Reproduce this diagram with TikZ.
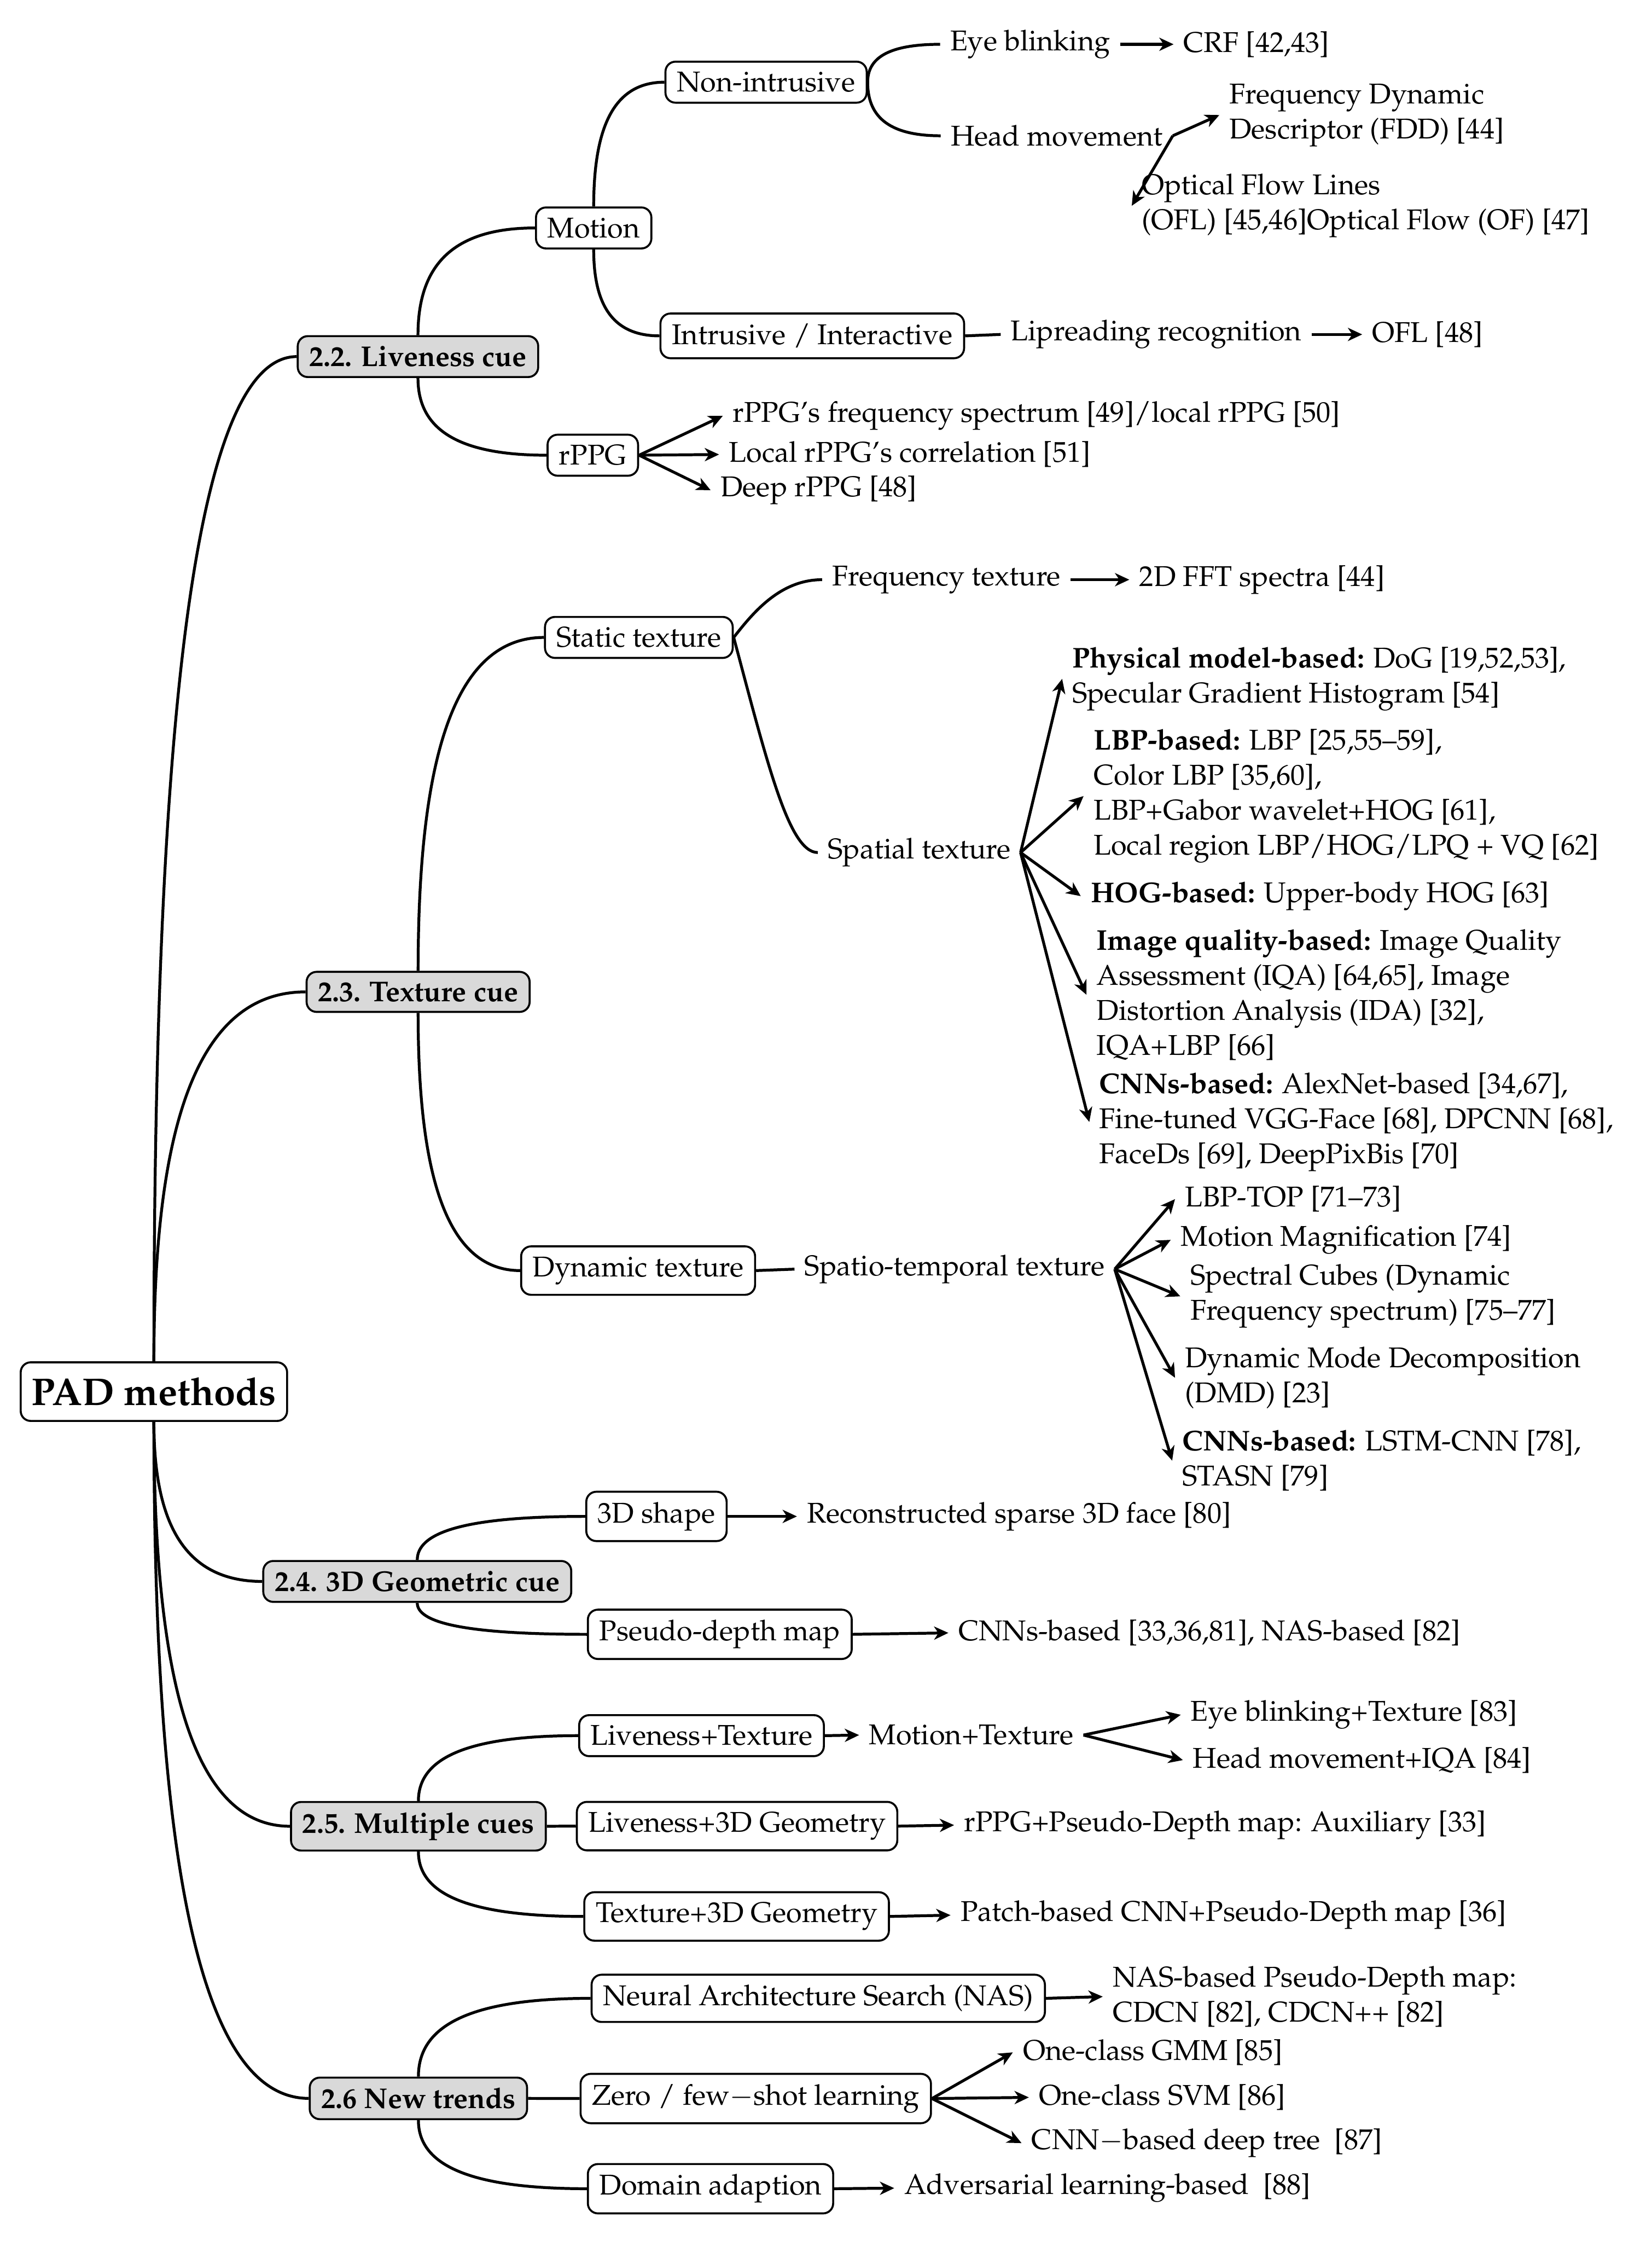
\documentclass[tikz,border=0pt]{standalone}
\usepackage[T1]{fontenc}
\usepackage{mathpazo}
\usetikzlibrary{calc,arrows.meta}
\tikzset{
  every node/.style={font=\fontsize{10}{12.25}\selectfont},
  box/.style={draw, line width=0.7pt, rounded corners=3.5pt, inner xsep=4pt, inner ysep=3.6pt, fill=white},
  lvl/.style={box, fill=gray!30, font=\fontsize{10}{12.25}\selectfont\bfseries},
  rootbox/.style={box, font=\fontsize{13.5}{15}\selectfont\bfseries, inner xsep=3.8pt, inner ysep=5.3pt},
  txt/.style={inner sep=3.33pt, align=left},
  conn/.style={line width=1pt},
  arr/.style={line width=1pt, -{Stealth[length=5pt,width=4.6pt,inset=1.5pt]}},
}
\newcommand{\bcurve}[2]{\draw[conn] (#1) .. controls ($(#1)!0.6!(#1|-#2)$) and ($(#2)!0.75!(#1|-#2)$) .. (#2);}
\begin{document}
\begin{tikzpicture}[x=0.5pt,y=-0.5pt]
\useasboundingbox (0,0) rectangle (1156,1568);
% root and level 1
\node[rootbox] (root) at (107.7,973.7) {PAD methods};
\node[lvl] (l22) at (292.5,249.5) {2.2. Liveness cue};
\node[lvl] (l23) at (292.6,694) {2.3. Texture cue};
\node[lvl] (l24) at (292,1106.5) {2.4. 3D Geometric cue};
\node[lvl] (l25) at (292.8,1277.8) {2.5. Multiple cues};
\node[lvl] (l26) at (292.8,1468.2) {2.6 New trends};
% liveness
\node[box,anchor=west] (motion) at (374.4,159.5) {Motion};
\node[box,anchor=west] (nonint) at (465,57.5) {Non-intrusive};
\node[box,anchor=west] (intr) at (461.5,235) {Intrusive / Interactive};
\node[box,anchor=west] (rppg) at (382.5,318.5) {rPPG};
\node[txt,anchor=west] (eye) at (657.9,31) {Eye blinking};
\node[txt,anchor=west] (crf) at (821.3,31) {CRF [42,43]};
\node[txt,anchor=west] (head) at (658.3,95) {Head movement};
\node[txt,anchor=west] (fdd) at (853.3,80.5) {Frequency Dynamic\\Descriptor (FDD) [44]};
\node[txt,anchor=west] (ofl) at (792,144) {Optical Flow Lines\\(OFL) [45,46]Optical Flow (OF) [47]};
\node[txt,anchor=west] (lip) at (700.3,234) {Lipreading recognition};
\node[txt,anchor=west] (ofl48) at (953.3,234) {OFL [48]};
\node[txt,anchor=west] (rp1) at (505.8,291) {rPPG's frequency spectrum [49]/local rPPG [50]};
\node[txt,anchor=west] (rp2) at (503.2,318) {Local rPPG's correlation [51]};
\node[txt,anchor=west] (rp3) at (497.3,343) {Deep rPPG [48]};
% texture
\node[box,anchor=west] (static) at (380.7,446) {Static texture};
\node[box,anchor=west] (dynamic) at (364,889) {Dynamic texture};
\node[txt,anchor=west] (freq) at (575.3,405.6) {Frequency texture};
\node[txt,anchor=west] (fft) at (790.3,405.6) {2D FFT spectra [44]};
\node[txt,anchor=west] (spat) at (572.3,596.5) {Spatial texture};
\node[txt,anchor=west] (sp1) at (743.3,475) {\textbf{Physical model-based:} DoG [19,52,53],\\Specular Gradient Histogram [54]};
\node[txt,anchor=west] (sp2) at (758.3,557) {\textbf{LBP-based:} LBP [25,55--59],\\Color LBP [35,60],\\LBP+Gabor wavelet+HOG [61],\\Local region LBP/HOG/LPQ + VQ [62]};
\node[txt,anchor=west] (sp3) at (756.3,627) {\textbf{HOG-based:} Upper-body HOG [63]};
\node[txt,anchor=west] (sp4) at (760.3,696) {\textbf{Image quality-based:} Image Quality\\Assessment (IQA) [64,65], Image\\Distortion Analysis (IDA) [32],\\IQA+LBP [66]};
\node[txt,anchor=west] (sp5) at (762.3,785) {\textbf{CNNs-based:} AlexNet-based [34,67],\\Fine-tuned VGG-Face [68], DPCNN [68],\\FaceDs [69], DeepPixBis [70]};
\node[txt,anchor=west] (spatio) at (556,888) {Spatio-temporal texture};
\node[txt,anchor=west] (dt1) at (822.3,839) {LBP-TOP [71--73]};
\node[txt,anchor=west] (dt2) at (819.3,867.5) {Motion Magnification [74]};
\node[txt,anchor=west] (dt3) at (826,907) {Spectral Cubes (Dynamic\\Frequency spectrum) [75--77]};
\node[txt,anchor=west] (dt4) at (822.3,964) {Dynamic Mode Decomposition\\(DMD) [23]};
\node[txt,anchor=west] (dt5) at (820.3,1022) {\textbf{CNNs-based:} LSTM-CNN [78],\\STASN [79]};
% 3D geometric
\node[box,anchor=west] (shape3d) at (409.6,1061) {3D shape};
\node[box,anchor=west] (pseudo) at (410.7,1143.5) {Pseudo-depth map};
\node[txt,anchor=west] (recon) at (557.7,1061) {Reconstructed sparse 3D face [80]};
\node[txt,anchor=west] (cnnsb) at (663.7,1142.5) {CNNs-based [33,36,81], NAS-based [82]};
% multiple cues
\node[box,anchor=west] (lt) at (404.6,1214.4) {Liveness+Texture};
\node[box,anchor=west] (l3d) at (403,1277.7) {Liveness+3D Geometry};
\node[box,anchor=west] (t3d) at (408.2,1340.9) {Texture+3D Geometry};
\node[txt,anchor=west] (mt) at (601.2,1214) {Motion+Texture};
\node[txt,anchor=west] (ebt) at (826.3,1199.8) {Eye blinking+Texture [83]};
\node[txt,anchor=west] (hmi) at (827.8,1231.5) {Head movement+IQA [84]};
\node[txt,anchor=west] (rppd) at (667.7,1277) {rPPG+Pseudo-Depth map: Auxiliary [33]};
\node[txt,anchor=west] (patch) at (665.2,1340) {Patch-based CNN+Pseudo-Depth map [36]};
% new trends
\node[box,anchor=west] (nas) at (413.3,1398.2) {Neural Architecture Search (NAS)};
\node[box,anchor=west] (zero) at (405.6,1468.3) {Zero / few$-$shot learning};
\node[box,anchor=west] (domain) at (410.7,1531.4) {Domain adaption};
\node[txt,anchor=west] (nasb) at (771.7,1397) {NAS-based Pseudo-Depth map:\\CDCN [82], CDCN++ [82]};
\node[txt,anchor=west] (gmm) at (708.8,1436) {One-class GMM [85]};
\node[txt,anchor=west] (svm) at (720,1467.5) {One-class SVM [86]};
\node[txt,anchor=west] (cnnt) at (714.9,1499.5) {CNN$-$based deep tree\ \ [87]};
\node[txt,anchor=west] (adv) at (625.8,1531) {Adversarial learning-based\ \ [88]};
% connectors: tree curves
\bcurve{root.north}{l22.west}
\bcurve{root.north}{l23.west}
\bcurve{root.south}{l24.west}
\bcurve{root.south}{l25.west}
\bcurve{root.south}{l26.west}
\bcurve{l22.north}{motion.west}
\bcurve{l22.south}{rppg.west}
\bcurve{motion.north}{nonint.west}
\bcurve{motion.south}{intr.west}
\bcurve{nonint.east}{eye.west}
\bcurve{nonint.east}{head.west}
\bcurve{l23.north}{static.west}
\bcurve{l23.south}{dynamic.west}
\bcurve{l24.north}{shape3d.west}
\bcurve{l24.south}{pseudo.west}
\bcurve{l25.north}{lt.west}
\bcurve{l25.south}{t3d.west}
\bcurve{l26.north}{nas.west}
\bcurve{l26.south}{domain.west}
\draw[conn] (l25.east) -- (l3d.west);
\draw[conn] (l26.east) -- (zero.west);
\draw[conn] (static.east) .. controls ($(static.east)+(14,-18)$) and ($(freq.west)+(-29,0)$) .. (freq.west);
\draw[conn] (static.east) .. controls ($(static.east)+(24,90)$) and ($(spat.west)+(-20,0)$) .. (spat.west);
\draw[conn] (intr.east) -- (lip.west);
\draw[conn] (dynamic.east) -- (spatio.west);
% arrows
\draw[arr] (eye.east) -- (crf.west);
\draw[arr] (head.east) -- (fdd.west);
\draw[arr] (head.east) -- (ofl.west);
\draw[arr] (lip.east) -- (ofl48.west);
\draw[arr] (rppg.east) -- (rp1.west);
\draw[arr] (rppg.east) -- (rp2.west);
\draw[arr] (rppg.east) -- (rp3.west);
\draw[arr] (freq.east) -- (fft.west);
\foreach \t in {sp1,sp2,sp3,sp4,sp5} \draw[arr] (spat.east) -- (\t.west);
\foreach \t in {dt1,dt2,dt3,dt4,dt5} \draw[arr] (spatio.east) -- (\t.west);
\draw[arr] (shape3d.east) -- (recon.west);
\draw[arr] (pseudo.east) -- (cnnsb.west);
\draw[arr] (lt.east) -- (mt.west);
\draw[arr] (mt.east) -- (ebt.west);
\draw[arr] (mt.east) -- (hmi.west);
\draw[arr] (l3d.east) -- (rppd.west);
\draw[arr] (t3d.east) -- (patch.west);
\draw[arr] (nas.east) -- (nasb.west);
\draw[arr] (zero.east) -- (gmm.west);
\draw[arr] (zero.east) -- (svm.west);
\draw[arr] (zero.east) -- (cnnt.west);
\draw[arr] (domain.east) -- (adv.west);
\end{tikzpicture}
\end{document}
